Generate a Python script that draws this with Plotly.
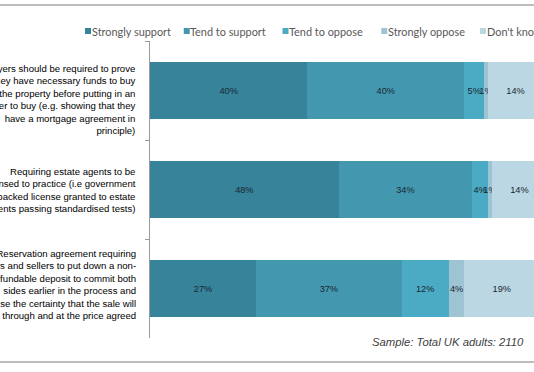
import plotly.graph_objects as go

# ---------------- data ----------------
categories = [
    "Buyers should be required to prove<br>they have necessary funds to buy<br>the property before putting in an<br>offer to buy (e.g. showing that they<br>have a mortgage agreement in<br>principle)",
    "Requiring estate agents to be<br>licensed to practice (i.e government<br>backed license granted to estate<br>agents passing standardised tests)",
    "Reservation agreement requiring<br>buyers and sellers to put down a non-<br>refundable deposit to commit both<br>sides earlier in the process and<br>increase the certainty that the sale will<br>go through and at the price agreed",
]
series_names = ["Strongly support", "Tend to support", "Tend to oppose", "Strongly oppose", "Don't know"]
strongly_support = [40, 48, 27]
tend_to_support = [40, 34, 37]
tend_to_oppose = [5, 4, 12]
strongly_oppose = [1, 1, 4]
dont_know = [14, 14, 19]
sample_note = "Sample: Total UK adults: 2110"

series_values = [strongly_support, tend_to_support, tend_to_oppose, strongly_oppose, dont_know]
colors = ["#37839A", "#4398AF", "#4BABC5", "#9EC4D4", "#BAD7E3"]

# ---------------- layout geometry (pixels) ----------------
W, H = 534, 372
ML, MR, MT, MB = 150, 0, 41, 34
PW, PH = W - ML - MR, H - MT - MB
PX_PER_PCT = 3.93


def px_x(px):
    return (px - ML) / PW


def px_y(py):
    return (H - MB - py) / PH


fig = go.Figure()
for name, vals, col in zip(series_names, series_values, colors):
    fig.add_trace(go.Bar(
        name=name,
        orientation="h",
        x=vals,
        y=categories,
        marker=dict(color=col, line=dict(width=0)),
        text=[f"{v}%" for v in vals],
        textposition="inside",
        insidetextanchor="middle",
        textangle=0,
        constraintext="none",
        textfont=dict(family="Liberation Sans, Arial", size=9.2, color="#1a2630"),
        showlegend=False,
        hoverinfo="skip",
    ))

annotations = []
shapes = []

# category labels (right aligned, left of axis)
label_shift = [-9, 0, 4]
for i, cat in enumerate(categories):
    annotations.append(dict(
        xref="paper", yref="y", x=px_x(138), y=i,
        xanchor="right", yanchor="middle", align="right",
        text=cat, showarrow=False, yshift=label_shift[i],
        font=dict(family="Liberation Sans, Arial", size=9.6, color="#000000"),
    ))

# custom legend
for i, (name, col) in enumerate(zip(series_names, colors)):
    left = 85 + i * 98.75
    shapes.append(dict(
        type="rect", xref="paper", yref="paper",
        x0=px_x(left), x1=px_x(left + 6), y0=px_y(34), y1=px_y(28),
        fillcolor=col, line=dict(width=0),
    ))
    annotations.append(dict(
        xref="paper", yref="paper", x=px_x(left + 4.5), y=px_y(31.5),
        xanchor="left", yanchor="middle", text=name, showarrow=False,
        font=dict(family="Lato", size=10.9, color="#595959"),
    ))

# sample note
annotations.append(dict(
    xref="paper", yref="paper", x=px_x(526), y=px_y(342),
    xanchor="right", yanchor="middle", text=sample_note, showarrow=False,
    font=dict(family="Liberation Sans, Arial", size=11.3, color="#404040", style="italic"),
))

# frame lines top and bottom
for py in (5, 362):
    shapes.append(dict(
        type="line", xref="paper", yref="paper",
        x0=px_x(0), x1=px_x(W), y0=px_y(py), y1=px_y(py),
        line=dict(color="#BDBDBD", width=2),
    ))

fig.update_layout(
    width=W, height=H,
    margin=dict(l=ML, r=MR, t=MT, b=MB, pad=0),
    paper_bgcolor="white", plot_bgcolor="white",
    barmode="stack", bargap=0.434,
    showlegend=False,
    xaxis=dict(range=[0, PW / PX_PER_PCT], visible=False, fixedrange=True),
    yaxis=dict(
        type="category", categoryorder="array", categoryarray=categories,
        autorange="reversed", showticklabels=False, showgrid=False,
        showline=True, linecolor="#9A9A9A", linewidth=1,
        ticks="outside", tickson="boundaries", ticklen=4, tickcolor="#9A9A9A",
        zeroline=False, fixedrange=True,
    ),
    annotations=annotations,
    shapes=shapes,
)

fig.write_html(
    "out.html",
    config={"displayModeBar": False},
    post_script="document.body.style.margin='0';document.body.style.overflow='hidden';",
)
